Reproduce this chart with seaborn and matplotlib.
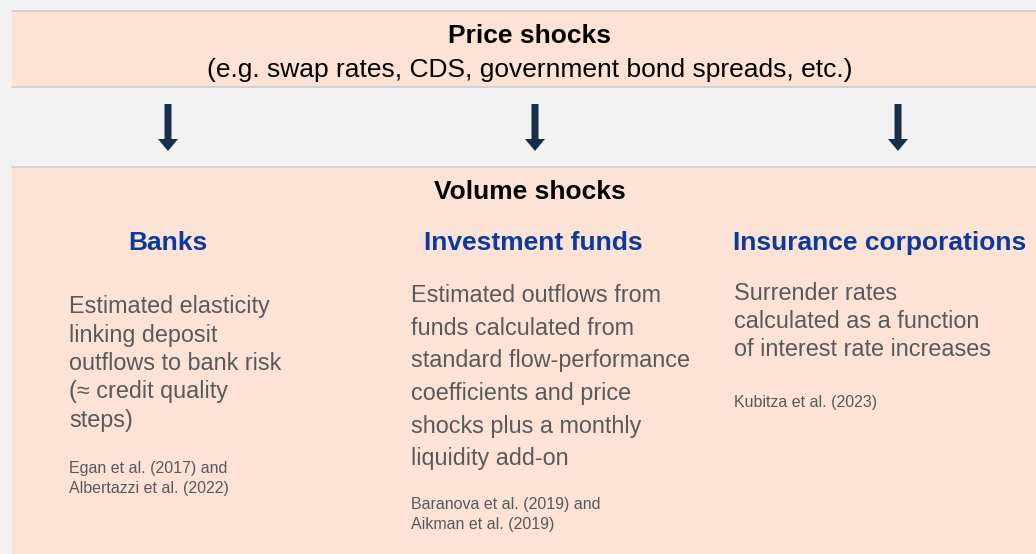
import matplotlib
matplotlib.use("Agg")
import matplotlib.pyplot as plt
from matplotlib.patches import Rectangle
import seaborn as sns

# diagram content
price_title = "Price shocks"
price_sub = "(e.g. swap rates, CDS, government bond spreads, etc.)"
volume_title = "Volume shocks"
sectors = ["Banks", "Investment funds", "Insurance corporations"]
descriptions = [
    "Estimated elasticity\nlinking deposit\noutflows to bank risk\n(\u2248 credit quality\nsteps)",
    "Estimated outflows from\nfunds calculated from\nstandard flow-performance\ncoefficients and price\nshocks plus a monthly\nliquidity add-on",
    "Surrender rates\ncalculated as a function\nof interest rate increases",
]
references = [
    "Egan et al. (2017) and\nAlbertazzi et al. (2022)",
    "Baranova et al. (2019) and\nAikman et al. (2019)",
    "Kubitza et al. (2023)",
]

# layout (pixel units)
arrow_x = [168, 535, 898]
title_x = [168, 533, 733]
title_ha = ["center", "center", "left"]
body_x = [69, 411, 734]
body_y0 = [307, 296, 294]
body_step = [28.3, 32.5, 28]
ref_y0 = [469, 505, 402]
ref_step = 19

sns.set_style("white")
plt.rcParams["font.family"] = ["Liberation Sans", "DejaVu Sans"]

PEACH = "#fce3d6"
BG = "#f2f2f2"
EDGE = "#d0cccc"
BLUE = "#0b3a9e"
GREY = "#595959"
NAVY = "#172f4b"

fig = plt.figure(figsize=(10.36, 5.54), dpi=100)
fig.patch.set_facecolor(BG)
ax = fig.add_axes([0, 0, 1, 1])
ax.set_xlim(0, 1036)
ax.set_ylim(554, 0)
ax.axis("off")

# boxes
ax.add_patch(Rectangle((12, 11), 1030, 76, facecolor=PEACH, edgecolor="none"))
ax.add_patch(Rectangle((12, 167), 1030, 400, facecolor=PEACH, edgecolor="none"))
for y in [11, 87, 167]:
    ax.plot([12, 1036], [y, y], color=EDGE, lw=1.2)

ax.text(530, 36, price_title, ha="center", va="center", fontsize=19,
        fontweight="bold", color="black")
ax.text(530, 70, price_sub, ha="center", va="center", fontsize=19, color="black")

# arrows
for x in arrow_x:
    ax.arrow(x, 104, 0, 47, width=7, head_width=20, head_length=12,
             length_includes_head=True, color=NAVY, linewidth=0)

ax.text(530, 192, volume_title, ha="center", va="center", fontsize=19,
        fontweight="bold", color="black")

for i, name in enumerate(sectors):
    ax.text(title_x[i], 243, name, ha=title_ha[i], va="center", fontsize=19,
            fontweight="bold", color=BLUE)
    for k, line in enumerate(descriptions[i].split("\n")):
        ax.text(body_x[i], body_y0[i] + k * body_step[i], line, ha="left",
                va="center", fontsize=16.8, color=GREY)
    for k, line in enumerate(references[i].split("\n")):
        ax.text(body_x[i], ref_y0[i] + k * ref_step, line, ha="left",
                va="center", fontsize=11.5, color=GREY)

fig.savefig("out.png", dpi=100, facecolor=BG)
